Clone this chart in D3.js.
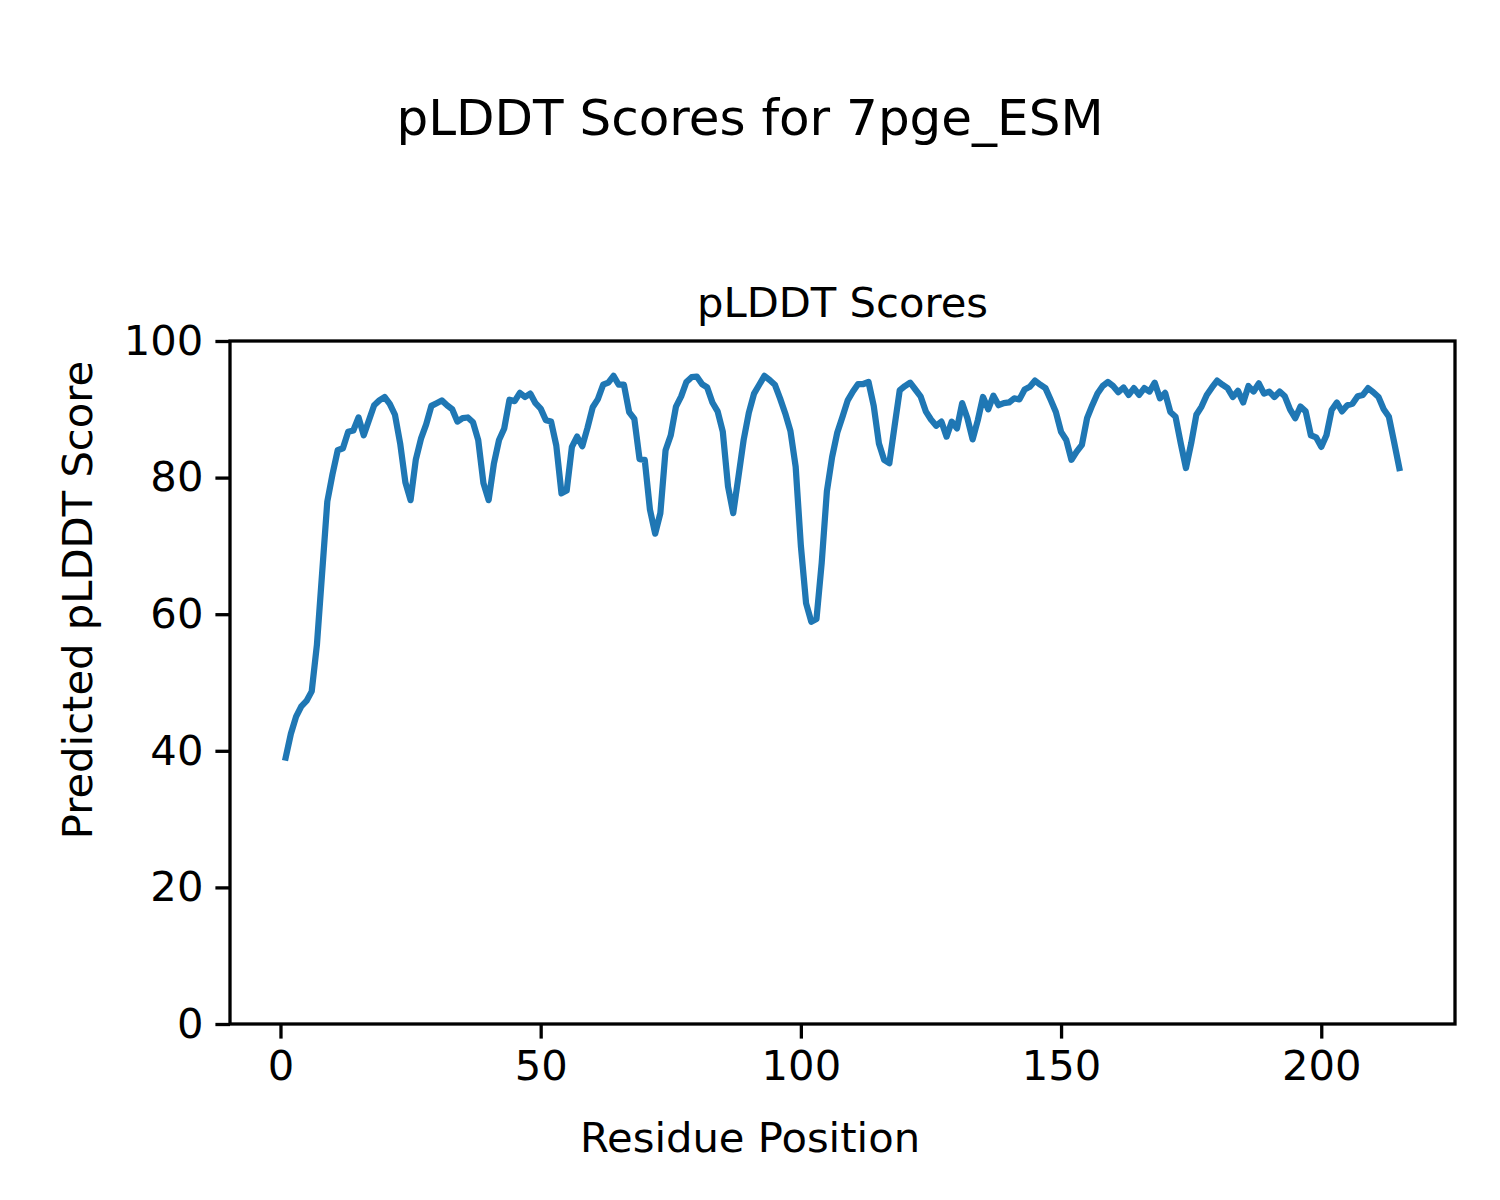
<!DOCTYPE html>
<html>
<head>
<meta charset="utf-8">
<script src="https://d3js.org/d3.v7.min.js"></script>
<style>
  body { margin: 0; background: #fff; }
  text { font-family: "DejaVu Sans", sans-serif; fill: #000; }
</style>
</head>
<body>
<div id="chart"></div>
<script>
// pLDDT per residue
var scores = [
  39.0, 42.5, 45.0, 46.5, 47.3, 48.7, 55.5, 66.0, 76.5, 80.5,
  84.0, 84.3, 86.7, 86.9, 88.8, 86.2, 88.4, 90.6, 91.3, 91.8,
  90.8, 89.2, 85.0, 79.3, 76.7, 82.6, 85.7, 87.8, 90.5, 90.9,
  91.3, 90.6, 90.0, 88.2, 88.7, 88.8, 88.1, 85.5, 79.2, 76.7,
  82.0, 85.5, 87.2, 91.4, 91.2, 92.4, 91.8, 92.3, 90.9, 90.1,
  88.4, 88.2, 84.7, 77.7, 78.1, 84.5, 86.0, 84.6, 87.3, 90.3,
  91.5, 93.6, 93.9, 94.9, 93.6, 93.6, 89.6, 88.6, 82.7, 82.6,
  75.3, 71.8, 74.8, 84.0, 86.2, 90.4, 91.9, 94.0, 94.7, 94.8,
  93.7, 93.2, 91.0, 89.7, 86.7, 78.7, 74.8, 80.1, 85.5, 89.5,
  92.3, 93.6, 94.9, 94.3, 93.6, 91.6, 89.4, 86.8, 81.6, 70.0,
  61.6, 58.9, 59.3, 67.5, 78.0, 83.0, 86.6, 88.9, 91.3, 92.6,
  93.7, 93.7, 94.0, 90.5, 85.0, 82.6, 82.1, 87.5, 92.8, 93.4,
  93.9, 92.9, 91.9, 89.7, 88.5, 87.6, 88.2, 86.0, 88.2, 87.2,
  90.9, 88.7, 85.6, 88.4, 91.8, 90.0, 92.0, 90.6, 90.9, 91.0,
  91.6, 91.45, 92.9, 93.3, 94.2, 93.6, 93.1, 91.4, 89.6, 86.7,
  85.5, 82.6, 83.8, 84.8, 88.7, 90.6, 92.3, 93.4, 94.0, 93.4,
  92.5, 93.2, 92.1, 93.1, 92.1, 93.1, 92.6, 93.9, 91.6, 92.4,
  89.6, 88.9, 85.0, 81.4, 85.0, 89.2, 90.4, 92.1, 93.2, 94.2,
  93.6, 93.1, 91.8, 92.7, 91.0, 93.4, 92.6, 93.8, 92.3, 92.6,
  91.8, 92.6, 91.9, 90.0, 88.7, 90.4, 89.7, 86.2, 85.9, 84.5,
  86.2, 89.9, 91.0, 89.7, 90.6, 90.8, 91.9, 92.1, 93.1, 92.5,
  91.8, 90.0, 88.9, 85.2, 81.4
];
var residues = d3.range(1, scores.length + 1);
var xTicks = [0, 50, 100, 150, 200];
var yTicks = [0, 20, 40, 60, 80, 100];

var width = 1500,
    height = 1200;
var plotLeft = 230, plotRight = 1455, plotTop = 341, plotBottom = 1024;

var svg = d3.select("#chart")
            .append("svg")
            .attr("width", width)
            .attr("height", height);

var x = d3.scaleLinear().domain([-9.7, 225.7]).range([plotLeft, plotRight]);
var y = d3.scaleLinear().domain([0, 100]).range([plotBottom, plotTop]);

// x axis
var xAxis = svg.append("g")
  .attr("transform", "translate(0," + plotBottom + ")")
  .call(d3.axisBottom(x).tickValues(xTicks).tickSize(14.6).tickPadding(12).tickFormat(d3.format("d")));

// y axis
var yAxis = svg.append("g")
  .attr("transform", "translate(" + plotLeft + ",0)")
  .call(d3.axisLeft(y).tickValues(yTicks).tickSize(14.6).tickPadding(12).tickFormat(d3.format("d")));

[xAxis, yAxis].forEach(function (g) {
  g.select(".domain").remove();
  g.selectAll(".tick line").attr("stroke", "#000").attr("stroke-width", 3.3);
  g.selectAll(".tick text")
    .style("font-family", "'DejaVu Sans', sans-serif")
    .style("font-size", "41.7px")
    .attr("fill", "#000");
});

// the line
var line = d3.line()
  .x(function (d, i) { return x(residues[i]); })
  .y(function (d) { return y(d); });

svg.append("path")
  .datum(scores)
  .attr("d", line)
  .attr("fill", "none")
  .attr("stroke", "#1f77b4")
  .attr("stroke-width", 6.25)
  .attr("stroke-linejoin", "round")
  .attr("stroke-linecap", "square");

// frame
svg.append("rect")
  .attr("x", plotLeft)
  .attr("y", plotTop)
  .attr("width", plotRight - plotLeft)
  .attr("height", plotBottom - plotTop)
  .attr("fill", "none")
  .attr("stroke", "#000")
  .attr("stroke-width", 3.3);

// titles and labels
svg.append("text")
  .attr("x", 750)
  .attr("y", 135)
  .attr("text-anchor", "middle")
  .style("font-size", "50px")
  .text("pLDDT Scores for 7pge_ESM");

svg.append("text")
  .attr("x", (plotLeft + plotRight) / 2)
  .attr("y", 317)
  .attr("text-anchor", "middle")
  .style("font-size", "41.7px")
  .text("pLDDT Scores");

svg.append("text")
  .attr("x", 750)
  .attr("y", 1152)
  .attr("text-anchor", "middle")
  .style("font-size", "41.7px")
  .text("Residue Position");

svg.append("text")
  .attr("transform", "translate(92,600) rotate(-90)")
  .attr("text-anchor", "middle")
  .style("font-size", "41.7px")
  .text("Predicted pLDDT Score");
</script>
</body>
</html>
